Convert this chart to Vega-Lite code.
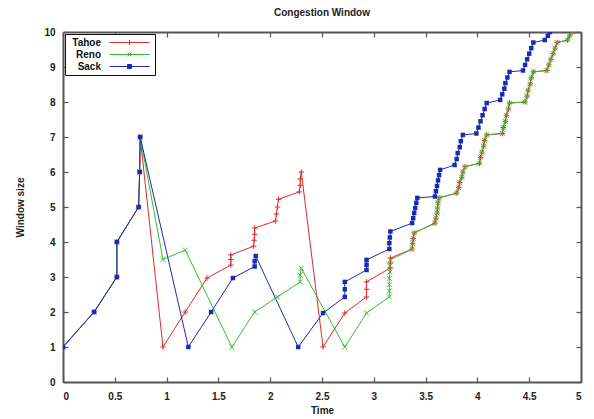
{
  "$schema": "https://vega.github.io/schema/vega-lite/v6.json",
  "width": 518,
  "height": 350,
  "autosize": {"type": "none"},
  "padding": {"left": 63, "top": 32, "right": 13, "bottom": 37},
  "title": {"text": "Congestion Window", "font": "Liberation Sans", "fontSize": 10, "fontWeight": "bold", "color": "#222", "offset": 9, "anchor": "middle"},
  "data": {"values": [
    {"s": "Tahoe", "t": 0, "v": 1}, {"s": "Tahoe", "t": 0.3, "v": 2}, {"s": "Tahoe", "t": 0.52, "v": 3}, {"s": "Tahoe", "t": 0.52, "v": 4}, {"s": "Tahoe", "t": 0.73, "v": 5}, {"s": "Tahoe", "t": 0.74, "v": 6}, {"s": "Tahoe", "t": 0.745, "v": 7},
    {"s": "Tahoe", "t": 0.965, "v": 1}, {"s": "Tahoe", "t": 1.18, "v": 2}, {"s": "Tahoe", "t": 1.39, "v": 2.97},
    {"s": "Tahoe", "t": 1.62, "v": 3.34}, {"s": "Tahoe", "t": 1.62, "v": 3.5}, {"s": "Tahoe", "t": 1.62, "v": 3.63},
    {"s": "Tahoe", "t": 1.84, "v": 3.88}, {"s": "Tahoe", "t": 1.845, "v": 4.05}, {"s": "Tahoe", "t": 1.85, "v": 4.22}, {"s": "Tahoe", "t": 1.85, "v": 4.4},
    {"s": "Tahoe", "t": 2.05, "v": 4.6}, {"s": "Tahoe", "t": 2.06, "v": 4.8}, {"s": "Tahoe", "t": 2.07, "v": 5.0}, {"s": "Tahoe", "t": 2.08, "v": 5.22},
    {"s": "Tahoe", "t": 2.28, "v": 5.43}, {"s": "Tahoe", "t": 2.29, "v": 5.62}, {"s": "Tahoe", "t": 2.29, "v": 5.8}, {"s": "Tahoe", "t": 2.3, "v": 6.0},
    {"s": "Tahoe", "t": 2.51, "v": 1}, {"s": "Tahoe", "t": 2.72, "v": 1.97},
    {"s": "Tahoe", "t": 2.93, "v": 2.43}, {"s": "Tahoe", "t": 2.93, "v": 2.65}, {"s": "Tahoe", "t": 2.93, "v": 2.86},
    {"s": "Tahoe", "t": 3.16, "v": 3.26}, {"s": "Tahoe", "t": 3.16, "v": 3.4}, {"s": "Tahoe", "t": 3.16, "v": 3.54},
    {"s": "Tahoe", "t": 3.37, "v": 3.8}, {"s": "Tahoe", "t": 3.375, "v": 3.95}, {"s": "Tahoe", "t": 3.38, "v": 4.1}, {"s": "Tahoe", "t": 3.39, "v": 4.26},
    {"s": "Tahoe", "t": 3.59, "v": 4.54}, {"s": "Tahoe", "t": 3.6, "v": 4.68}, {"s": "Tahoe", "t": 3.61, "v": 4.83}, {"s": "Tahoe", "t": 3.615, "v": 4.97}, {"s": "Tahoe", "t": 3.62, "v": 5.12}, {"s": "Tahoe", "t": 3.63, "v": 5.26},
    {"s": "Tahoe", "t": 3.8, "v": 5.4}, {"s": "Tahoe", "t": 3.82, "v": 5.55}, {"s": "Tahoe", "t": 3.83, "v": 5.7}, {"s": "Tahoe", "t": 3.85, "v": 5.85}, {"s": "Tahoe", "t": 3.86, "v": 6.0}, {"s": "Tahoe", "t": 3.88, "v": 6.15},
    {"s": "Tahoe", "t": 4.02, "v": 6.25}, {"s": "Tahoe", "t": 4.03, "v": 6.41}, {"s": "Tahoe", "t": 4.045, "v": 6.57}, {"s": "Tahoe", "t": 4.06, "v": 6.74}, {"s": "Tahoe", "t": 4.07, "v": 6.9}, {"s": "Tahoe", "t": 4.09, "v": 7.06},
    {"s": "Tahoe", "t": 4.24, "v": 7.1}, {"s": "Tahoe", "t": 4.25, "v": 7.27}, {"s": "Tahoe", "t": 4.27, "v": 7.45}, {"s": "Tahoe", "t": 4.28, "v": 7.62}, {"s": "Tahoe", "t": 4.3, "v": 7.8}, {"s": "Tahoe", "t": 4.31, "v": 7.97},
    {"s": "Tahoe", "t": 4.46, "v": 8.0}, {"s": "Tahoe", "t": 4.48, "v": 8.17}, {"s": "Tahoe", "t": 4.49, "v": 8.34}, {"s": "Tahoe", "t": 4.51, "v": 8.52}, {"s": "Tahoe", "t": 4.52, "v": 8.69}, {"s": "Tahoe", "t": 4.54, "v": 8.86},
    {"s": "Tahoe", "t": 4.67, "v": 8.9}, {"s": "Tahoe", "t": 4.69, "v": 9.06}, {"s": "Tahoe", "t": 4.71, "v": 9.22}, {"s": "Tahoe", "t": 4.73, "v": 9.38}, {"s": "Tahoe", "t": 4.75, "v": 9.54}, {"s": "Tahoe", "t": 4.77, "v": 9.7},
    {"s": "Tahoe", "t": 4.87, "v": 9.77}, {"s": "Tahoe", "t": 4.89, "v": 9.89}, {"s": "Tahoe", "t": 4.92, "v": 10.0},

    {"s": "Reno", "t": 0, "v": 1}, {"s": "Reno", "t": 0.3, "v": 2}, {"s": "Reno", "t": 0.52, "v": 3}, {"s": "Reno", "t": 0.52, "v": 4}, {"s": "Reno", "t": 0.73, "v": 5}, {"s": "Reno", "t": 0.74, "v": 6}, {"s": "Reno", "t": 0.745, "v": 7},
    {"s": "Reno", "t": 0.965, "v": 3.5}, {"s": "Reno", "t": 1.18, "v": 3.77}, {"s": "Reno", "t": 1.63, "v": 1}, {"s": "Reno", "t": 1.85, "v": 2},
    {"s": "Reno", "t": 2.07, "v": 2.43}, {"s": "Reno", "t": 2.29, "v": 2.86}, {"s": "Reno", "t": 2.29, "v": 3.05}, {"s": "Reno", "t": 2.3, "v": 3.25},
    {"s": "Reno", "t": 2.72, "v": 1}, {"s": "Reno", "t": 2.93, "v": 1.97},
    {"s": "Reno", "t": 3.15, "v": 2.43}, {"s": "Reno", "t": 3.15, "v": 2.6}, {"s": "Reno", "t": 3.15, "v": 2.78}, {"s": "Reno", "t": 3.15, "v": 2.96}, {"s": "Reno", "t": 3.155, "v": 3.14}, {"s": "Reno", "t": 3.155, "v": 3.32}, {"s": "Reno", "t": 3.16, "v": 3.49},
    {"s": "Reno", "t": 3.37, "v": 3.8}, {"s": "Reno", "t": 3.375, "v": 3.95}, {"s": "Reno", "t": 3.38, "v": 4.1}, {"s": "Reno", "t": 3.39, "v": 4.26},
    {"s": "Reno", "t": 3.59, "v": 4.54}, {"s": "Reno", "t": 3.6, "v": 4.68}, {"s": "Reno", "t": 3.61, "v": 4.83}, {"s": "Reno", "t": 3.615, "v": 4.97}, {"s": "Reno", "t": 3.62, "v": 5.12}, {"s": "Reno", "t": 3.63, "v": 5.26},
    {"s": "Reno", "t": 3.8, "v": 5.4}, {"s": "Reno", "t": 3.82, "v": 5.55}, {"s": "Reno", "t": 3.83, "v": 5.7}, {"s": "Reno", "t": 3.85, "v": 5.85}, {"s": "Reno", "t": 3.86, "v": 6.0}, {"s": "Reno", "t": 3.88, "v": 6.15},
    {"s": "Reno", "t": 4.02, "v": 6.25}, {"s": "Reno", "t": 4.03, "v": 6.41}, {"s": "Reno", "t": 4.045, "v": 6.57}, {"s": "Reno", "t": 4.06, "v": 6.74}, {"s": "Reno", "t": 4.07, "v": 6.9}, {"s": "Reno", "t": 4.09, "v": 7.06},
    {"s": "Reno", "t": 4.24, "v": 7.1}, {"s": "Reno", "t": 4.25, "v": 7.27}, {"s": "Reno", "t": 4.27, "v": 7.45}, {"s": "Reno", "t": 4.28, "v": 7.62}, {"s": "Reno", "t": 4.3, "v": 7.8}, {"s": "Reno", "t": 4.31, "v": 7.97},
    {"s": "Reno", "t": 4.46, "v": 8.0}, {"s": "Reno", "t": 4.48, "v": 8.17}, {"s": "Reno", "t": 4.49, "v": 8.34}, {"s": "Reno", "t": 4.51, "v": 8.52}, {"s": "Reno", "t": 4.52, "v": 8.69}, {"s": "Reno", "t": 4.54, "v": 8.86},
    {"s": "Reno", "t": 4.67, "v": 8.9}, {"s": "Reno", "t": 4.69, "v": 9.06}, {"s": "Reno", "t": 4.71, "v": 9.22}, {"s": "Reno", "t": 4.73, "v": 9.38}, {"s": "Reno", "t": 4.75, "v": 9.54}, {"s": "Reno", "t": 4.77, "v": 9.7},
    {"s": "Reno", "t": 4.87, "v": 9.77}, {"s": "Reno", "t": 4.89, "v": 9.89}, {"s": "Reno", "t": 4.92, "v": 10.0},

    {"s": "Sack", "t": 0, "v": 1}, {"s": "Sack", "t": 0.3, "v": 2}, {"s": "Sack", "t": 0.52, "v": 3}, {"s": "Sack", "t": 0.52, "v": 4}, {"s": "Sack", "t": 0.73, "v": 5}, {"s": "Sack", "t": 0.74, "v": 6}, {"s": "Sack", "t": 0.745, "v": 7},
    {"s": "Sack", "t": 1.21, "v": 1}, {"s": "Sack", "t": 1.43, "v": 2}, {"s": "Sack", "t": 1.64, "v": 2.97},
    {"s": "Sack", "t": 1.85, "v": 3.3}, {"s": "Sack", "t": 1.85, "v": 3.45}, {"s": "Sack", "t": 1.86, "v": 3.6},
    {"s": "Sack", "t": 2.27, "v": 1}, {"s": "Sack", "t": 2.51, "v": 1.97},
    {"s": "Sack", "t": 2.72, "v": 2.43}, {"s": "Sack", "t": 2.72, "v": 2.65}, {"s": "Sack", "t": 2.72, "v": 2.86},
    {"s": "Sack", "t": 2.93, "v": 3.2}, {"s": "Sack", "t": 2.93, "v": 3.35}, {"s": "Sack", "t": 2.93, "v": 3.49},
    {"s": "Sack", "t": 3.15, "v": 3.8}, {"s": "Sack", "t": 3.15, "v": 3.97}, {"s": "Sack", "t": 3.155, "v": 4.13}, {"s": "Sack", "t": 3.16, "v": 4.3},
    {"s": "Sack", "t": 3.37, "v": 4.54}, {"s": "Sack", "t": 3.38, "v": 4.68}, {"s": "Sack", "t": 3.39, "v": 4.83}, {"s": "Sack", "t": 3.4, "v": 4.97}, {"s": "Sack", "t": 3.41, "v": 5.12}, {"s": "Sack", "t": 3.42, "v": 5.26},
    {"s": "Sack", "t": 3.59, "v": 5.3}, {"s": "Sack", "t": 3.6, "v": 5.45}, {"s": "Sack", "t": 3.61, "v": 5.6}, {"s": "Sack", "t": 3.62, "v": 5.76}, {"s": "Sack", "t": 3.63, "v": 5.91}, {"s": "Sack", "t": 3.64, "v": 6.06},
    {"s": "Sack", "t": 3.78, "v": 6.2}, {"s": "Sack", "t": 3.8, "v": 6.37}, {"s": "Sack", "t": 3.81, "v": 6.54}, {"s": "Sack", "t": 3.83, "v": 6.71}, {"s": "Sack", "t": 3.84, "v": 6.88}, {"s": "Sack", "t": 3.86, "v": 7.06},
    {"s": "Sack", "t": 3.99, "v": 7.1}, {"s": "Sack", "t": 4.01, "v": 7.27}, {"s": "Sack", "t": 4.03, "v": 7.45}, {"s": "Sack", "t": 4.05, "v": 7.62}, {"s": "Sack", "t": 4.07, "v": 7.8}, {"s": "Sack", "t": 4.09, "v": 7.97},
    {"s": "Sack", "t": 4.22, "v": 8.06}, {"s": "Sack", "t": 4.24, "v": 8.22}, {"s": "Sack", "t": 4.26, "v": 8.38}, {"s": "Sack", "t": 4.27, "v": 8.54}, {"s": "Sack", "t": 4.29, "v": 8.7}, {"s": "Sack", "t": 4.31, "v": 8.86},
    {"s": "Sack", "t": 4.44, "v": 8.9}, {"s": "Sack", "t": 4.46, "v": 9.06}, {"s": "Sack", "t": 4.48, "v": 9.22}, {"s": "Sack", "t": 4.5, "v": 9.38}, {"s": "Sack", "t": 4.52, "v": 9.54}, {"s": "Sack", "t": 4.54, "v": 9.7},
    {"s": "Sack", "t": 4.65, "v": 9.77}, {"s": "Sack", "t": 4.68, "v": 9.89}, {"s": "Sack", "t": 4.7, "v": 10.0}
  ]},
  "resolve": {"axis": {"x": "independent", "y": "independent"}},
  "layer": [
    {
      "mark": {"type": "line", "strokeWidth": 1, "clip": true},
      "encoding": {
        "x": {"field": "t", "type": "quantitative", "scale": {"domain": [0, 5], "nice": false, "zero": false},
              "axis": {"orient": "bottom", "values": [0, 0.5, 1, 1.5, 2, 2.5, 3, 3.5, 4, 4.5, 5], "format": "~g", "title": "Time", "labelPadding": 14, "titlePadding": 4}},
        "y": {"field": "v", "type": "quantitative", "scale": {"domain": [0, 10], "nice": false, "zero": false},
              "axis": {"orient": "left", "values": [0, 1, 2, 3, 4, 5, 6, 7, 8, 9, 10], "format": "d", "title": "Window size", "labelPadding": 13, "titlePadding": 18}},
        "color": {"field": "s", "type": "nominal",
                  "scale": {"domain": ["Tahoe", "Reno", "Sack"], "range": ["#dd2a2a", "#2fc02f", "#1a2ab8"]},
                  "legend": {"title": null, "orient": "top-left", "offset": 2, "strokeColor": "#111", "fillColor": "white", "padding": 3,
                             "symbolType": "M-4,0L4,0", "symbolSize": 100, "symbolStrokeWidth": 1, "rowPadding": 1,
                             "labelFont": "Liberation Sans", "labelFontSize": 10, "labelFontWeight": "bold", "labelColor": "#111",
                             "labelAlign": "right", "labelOffset": -34, "symbolOffset": 56,
                             "encode": {"symbols": {"update": {
                               "shape": {"signal": "datum.value === 'Tahoe' ? 'M-4,0L4,0M0,-0.5L0,0.5' : datum.value === 'Reno' ? 'M-4,0L4,0M-0.4,-0.4L0.4,0.4M-0.4,0.4L0.4,-0.4' : 'M-4,0L4,0M-0.4,-0.4L0.4,-0.4L0.4,0.4L-0.4,0.4Z'"},
                               "fill": {"signal": "datum.value === 'Sack' ? '#1a2ab8' : 'transparent'"}}}}}},
        "order": {"value": null}
      }
    },
    {
      "transform": [{"filter": "datum.s === 'Tahoe'"}],
      "mark": {"type": "point", "shape": "M-1,0L1,0M0,-1L0,1", "size": 30, "filled": false, "strokeWidth": 1, "color": "#dd2a2a", "opacity": 1, "clip": true},
      "encoding": {
        "x": {"field": "t", "type": "quantitative", "axis": {"orient": "top", "values": [0, 0.5, 1, 1.5, 2, 2.5, 3, 3.5, 4, 4.5, 5], "labels": false, "title": null}},
        "y": {"field": "v", "type": "quantitative", "axis": {"orient": "right", "values": [0, 1, 2, 3, 4, 5, 6, 7, 8, 9, 10], "labels": false, "title": null}}
      }
    },
    {
      "transform": [{"filter": "datum.s === 'Reno'"}],
      "mark": {"type": "point", "shape": "M-1,-1L1,1M-1,1L1,-1", "size": 24, "filled": false, "strokeWidth": 1, "color": "#2fc02f", "opacity": 1, "clip": true},
      "encoding": {
        "x": {"field": "t", "type": "quantitative", "axis": null},
        "y": {"field": "v", "type": "quantitative", "axis": null}
      }
    },
    {
      "transform": [{"filter": "datum.s === 'Sack'"}],
      "mark": {"type": "point", "shape": "square", "size": 20, "filled": true, "color": "#1a2ab8", "opacity": 1, "clip": true},
      "encoding": {
        "x": {"field": "t", "type": "quantitative", "axis": null},
        "y": {"field": "v", "type": "quantitative", "axis": null}
      }
    }
  ],
  "config": {
    "view": {"stroke": null},
    "axis": {"domainColor": "#555", "domainWidth": 2, "tickColor": "#555", "tickWidth": 1.2, "tickSize": -5, "grid": false,
             "labelFont": "Liberation Sans", "labelFontSize": 10, "labelFontWeight": "bold", "labelColor": "#222",
             "titleFont": "Liberation Sans", "titleFontSize": 10, "titleFontWeight": "bold", "titleColor": "#222"}
  }
}
